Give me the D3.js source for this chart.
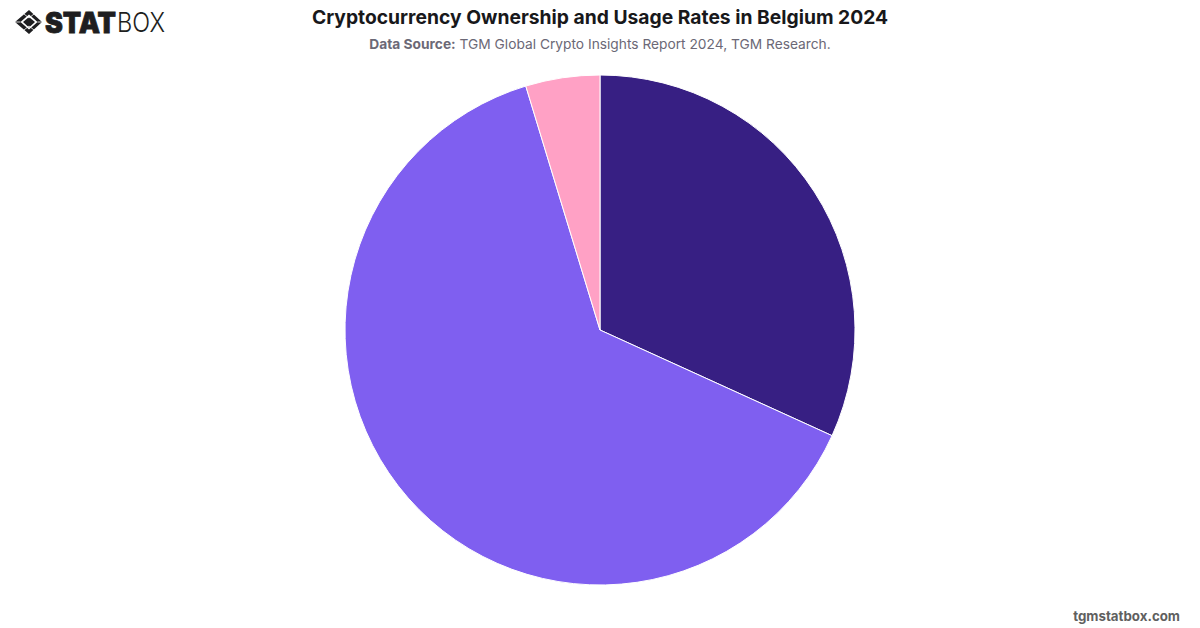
<!DOCTYPE html>
<html>
<head>
<meta charset="utf-8">
<script src="https://cdn.jsdelivr.net/npm/d3@7"></script>
<style>
  html, body { margin: 0; padding: 0; background: #fff; }
  svg { display: block; }
  text { font-family: Inter, "Noto Sans", sans-serif; }
</style>
</head>
<body>
<div id="chart"></div>
<script>
const titleText = "Cryptocurrency Ownership and Usage Rates in Belgium 2024";
const sourceLabel = "Data Source:";
const sourceText = " TGM Global Crypto Insights Report 2024, TGM Research.";
const siteText = "tgmstatbox.com";

// Slice shares in percent, clockwise from twelve o'clock
const sliceValues = [31.8, 63.5, 4.7];
const sliceColors = ["#371f83", "#7f5ff0", "#ffa1c5"];

const width = 1200, height = 628;
const svg = d3.select("#chart").append("svg")
  .attr("width", width).attr("height", height);

const pie = d3.pie().sort(null)(sliceValues);
const arc = d3.arc().innerRadius(0).outerRadius(255);

svg.append("g")
  .attr("transform", "translate(600,330)")
  .selectAll("path")
  .data(pie)
  .join("path")
  .attr("d", arc)
  .attr("fill", (d, i) => sliceColors[i])
  .attr("stroke", "#fff")
  .attr("stroke-width", 1);

svg.append("text")
  .attr("x", 600).attr("y", 24)
  .attr("text-anchor", "middle")
  .attr("font-size", 19.3).attr("font-weight", 700)
  .attr("fill", "#18181b")
  .text(titleText);

const source = svg.append("text")
  .attr("x", 600).attr("y", 49)
  .attr("text-anchor", "middle")
  .attr("font-size", 13.75)
  .attr("fill", "#6b6876");
source.append("tspan").attr("font-weight", 700).text(sourceLabel);
source.append("tspan").text(sourceText);

svg.append("text")
  .attr("x", 1180).attr("y", 621)
  .attr("text-anchor", "end")
  .attr("font-size", 13.3).attr("font-weight", 700)
  .attr("fill", "#5f5f5f")
  .text(siteText);

// Brand mark: a faceted diamond followed by the wordmark
const logo = svg.append("g").attr("fill", "#1e1e20");
logo.append("path")
  .attr("fill-rule", "evenodd")
  .attr("d", "M29 10 L42 22 L29 34 L15 22 Z M29 14.5 L20.5 22 L29 29.5 L37.5 22 Z");
logo.append("path").attr("d", "M29 17 L35 22 L29 27.5 L23 22 Z");
logo.append("path")
  .attr("fill", "none").attr("stroke", "#fff").attr("stroke-width", 0.8)
  .attr("d", "M15 22 L20.5 22 M37.5 22 L42 22 M24 14 L29 18 M34 14 L29 18 M24 30 L29 26 M34 30 L29 26");
logo.append("text")
  .attr("x", 45).attr("y", 32.5)
  .attr("font-size", 28).attr("font-weight", 900)
  .attr("stroke", "#1e1e20").attr("stroke-width", 0.8)
  .attr("textLength", 71).attr("lengthAdjust", "spacingAndGlyphs")
  .text("STAT");
logo.append("text")
  .attr("x", 117).attr("y", 32)
  .attr("font-size", 27).attr("font-weight", 300)
  .attr("textLength", 48).attr("lengthAdjust", "spacingAndGlyphs")
  .text("BOX");
</script>
</body>
</html>
